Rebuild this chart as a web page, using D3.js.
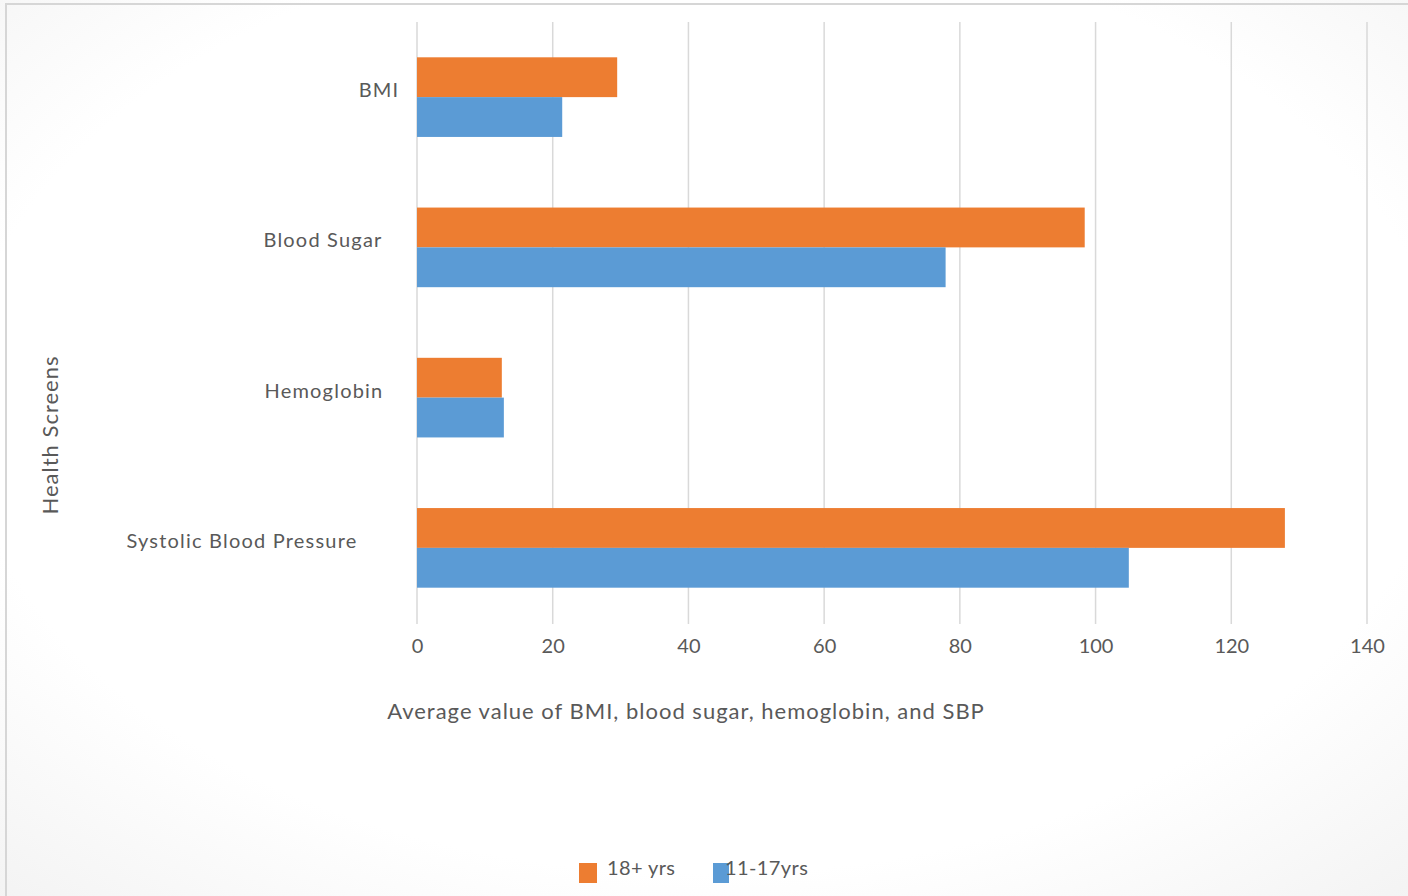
<!DOCTYPE html>
<html>
<head>
<meta charset="utf-8">
<script src="https://cdn.jsdelivr.net/npm/d3@7"></script>
<style>
  html, body { margin: 0; padding: 0; background: #fff; }
  svg { display: block; font-family: Lato, "Open Sans", sans-serif; }
</style>
</head>
<body>
<svg id="chart" width="1408" height="896"></svg>
<script>
// Health screen averages by age group
const categories = ["BMI", "Blood Sugar", "Hemoglobin", "Systolic Blood Pressure"];
const seriesNames = ["18+ yrs", "11-17yrs"];
const adultValues = [29.5, 98.4, 12.5, 127.9];
const youthValues = [21.4, 77.9, 12.8, 104.9];
const xTicks = [0, 20, 40, 60, 80, 100, 120, 140];
const xTitle = "Average value of BMI, blood sugar, hemoglobin, and SBP";
const yTitle = "Health Screens";

const colors = ["#ED7D31", "#5B9BD5"];
const textColor = "#595959";
// horizontal centre of each category label
const labelCenters = [379, 323, 324, 242];

const svg = d3.select("#chart");
const W = 1408, H = 896;

// soft background shading
const defs = svg.append("defs");
const rg = defs.append("radialGradient").attr("id", "bg")
  .attr("cx", "50%").attr("cy", "45%").attr("r", "75%");
rg.append("stop").attr("offset", "70%").attr("stop-color", "#ffffff");
rg.append("stop").attr("offset", "100%").attr("stop-color", "#f3f3f3");
svg.append("rect").attr("width", W).attr("height", H).attr("fill", "url(#bg)");

// frame lines
svg.append("line").attr("x1", 5).attr("x2", W).attr("y1", 4).attr("y2", 4)
  .attr("stroke", "#d6d6d6").attr("stroke-width", 2);
svg.append("line").attr("x1", 6).attr("x2", 6).attr("y1", 4).attr("y2", H)
  .attr("stroke", "#d6d6d6").attr("stroke-width", 2);

const plot = { left: 417, right: 1367, top: 22, bottom: 623 };

const x = d3.scaleLinear().domain([0, 140]).range([plot.left, plot.right]);
const y = d3.scaleBand().domain(categories).range([plot.top, plot.bottom])
  .paddingInner(0.47).paddingOuter(0.235);
const sub = d3.scaleBand().domain(seriesNames).range([0, y.bandwidth()]);

// gridlines
svg.append("g").selectAll("line").data(xTicks).join("line")
  .attr("x1", d => x(d)).attr("x2", d => x(d))
  .attr("y1", plot.top).attr("y2", plot.bottom + 1)
  .attr("stroke", "#d9d9d9").attr("stroke-width", 1.5);

// bars
const rows = categories.map((c, i) => ({ cat: c, vals: [adultValues[i], youthValues[i]] }));
const groups = svg.append("g").selectAll("g").data(rows).join("g")
  .attr("transform", d => `translate(0,${y(d.cat)})`);
groups.selectAll("rect")
  .data(d => d.vals.map((v, j) => ({ name: seriesNames[j], v, j })))
  .join("rect")
  .attr("x", x(0))
  .attr("y", d => sub(d.name))
  .attr("width", d => x(d.v) - x(0))
  .attr("height", sub.bandwidth())
  .attr("fill", d => colors[d.j]);

// x axis tick labels
const xAxis = d3.axisBottom(x).tickValues(xTicks).tickSize(0).tickPadding(0);
const gx = svg.append("g").attr("transform", `translate(0,${plot.bottom})`).call(xAxis);
gx.select(".domain").remove();
gx.selectAll("text")
  .attr("dy", null).attr("y", 30)
  .attr("font-size", 20).attr("fill", textColor)
  .attr("font-family", "Lato, 'Open Sans', sans-serif");

// category labels
svg.append("g").selectAll("text").data(categories).join("text")
  .attr("x", (d, i) => labelCenters[i])
  .attr("y", d => y(d) + y.bandwidth() / 2 - 5)
  .attr("text-anchor", "middle")
  .attr("dominant-baseline", "middle")
  .attr("font-size", 20).attr("fill", textColor)
  .attr("letter-spacing", 1.2)
  .text(d => d);

// axis titles
svg.append("text").attr("x", 686).attr("y", 719)
  .attr("text-anchor", "middle").attr("font-size", 22).attr("fill", textColor)
  .attr("letter-spacing", 1)
  .text(xTitle);
svg.append("text").attr("transform", "translate(58,435) rotate(-90)")
  .attr("text-anchor", "middle").attr("font-size", 22).attr("fill", textColor)
  .attr("letter-spacing", 1)
  .text(yTitle);

// legend
const legendItems = [
  { name: seriesNames[0], color: colors[0], sx: 579, sw: 18, tx: 607 },
  { name: seriesNames[1], color: colors[1], sx: 713, sw: 16, tx: 725 }
];
const lg = svg.append("g");
lg.selectAll("rect").data(legendItems).join("rect")
  .attr("x", d => d.sx).attr("y", 863).attr("width", d => d.sw).attr("height", 20)
  .attr("fill", d => d.color);
lg.selectAll("text").data(legendItems).join("text")
  .attr("x", d => d.tx).attr("y", 875)
  .attr("font-size", 20).attr("fill", textColor)
  .attr("letter-spacing", 0.4)
  .text(d => d.name);
</script>
</body>
</html>
